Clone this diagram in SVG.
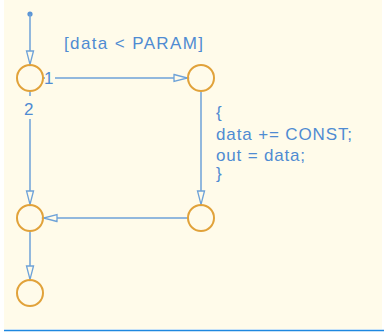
<svg xmlns="http://www.w3.org/2000/svg" width="384" height="332" viewBox="0 0 384 332">
<style>
.st{fill:none;stroke:#e1a23a;stroke-width:2}
.cn{fill:none;stroke:#6ea2d8;stroke-width:1.5}
.lb{font-family:"Liberation Sans",Arial,sans-serif;font-size:17px;fill:#4f8bd2}
</style>
<defs>
<marker id="ah" markerUnits="userSpaceOnUse" markerWidth="16" markerHeight="10" refX="14" refY="4" orient="auto" overflow="visible">
<path d="M0.5,0.5 L14,4 L0.5,7.5 z" fill="#fffbea" stroke="#6ea2d8" stroke-width="1.3" stroke-linejoin="miter"/>
</marker>
</defs>
<rect x="0" y="0" width="384" height="332" fill="#ffffff"/>
<rect x="4" y="0" width="378" height="329" fill="#fffbea"/>
<line x1="4" y1="330.5" x2="384" y2="330.5" stroke="#1e88e0" stroke-width="1.5"/>
<g id="connectors">
<circle cx="30" cy="14" r="2.6" fill="#5b95d6"/>
<line class="cn" x1="30" y1="14" x2="30" y2="64.5" marker-end="url(#ah)"/>
<line class="cn" x1="43" y1="78" x2="45" y2="78"/>
<line class="cn" x1="55" y1="78" x2="187.5" y2="78" marker-end="url(#ah)"/>
<line class="cn" x1="30" y1="91.5" x2="30" y2="96"/>
<line class="cn" x1="30" y1="119" x2="30" y2="204.5" marker-end="url(#ah)"/>
<line class="cn" x1="201" y1="91.5" x2="201" y2="204.5" marker-end="url(#ah)"/>
<line class="cn" x1="188" y1="218" x2="43.5" y2="218" marker-end="url(#ah)"/>
<line class="cn" x1="30" y1="231.5" x2="30" y2="279.5" marker-end="url(#ah)"/>
<text class="lb" x="64" y="49" textLength="139" lengthAdjust="spacing">[data &lt; PARAM]</text>
<text class="lb" x="44" y="84">1</text>
<text class="lb" x="24" y="115">2</text>
<text class="lb" x="216" y="118">{</text>
<text class="lb" x="216" y="140" textLength="136" lengthAdjust="spacing">data += CONST;</text>
<text class="lb" x="216" y="161" textLength="89" lengthAdjust="spacing">out = data;</text>
<text class="lb" x="216" y="179">}</text>
</g>
<g id="nodeA"><circle class="st" cx="30" cy="78" r="13"/></g>
<g id="nodeB"><circle class="st" cx="201" cy="78" r="13"/></g>
<g id="nodeC"><circle class="st" cx="30" cy="218" r="13"/></g>
<g id="nodeD"><circle class="st" cx="201" cy="218" r="13"/></g>
<g id="nodeE"><circle class="st" cx="30" cy="293" r="13"/></g>
</svg>
